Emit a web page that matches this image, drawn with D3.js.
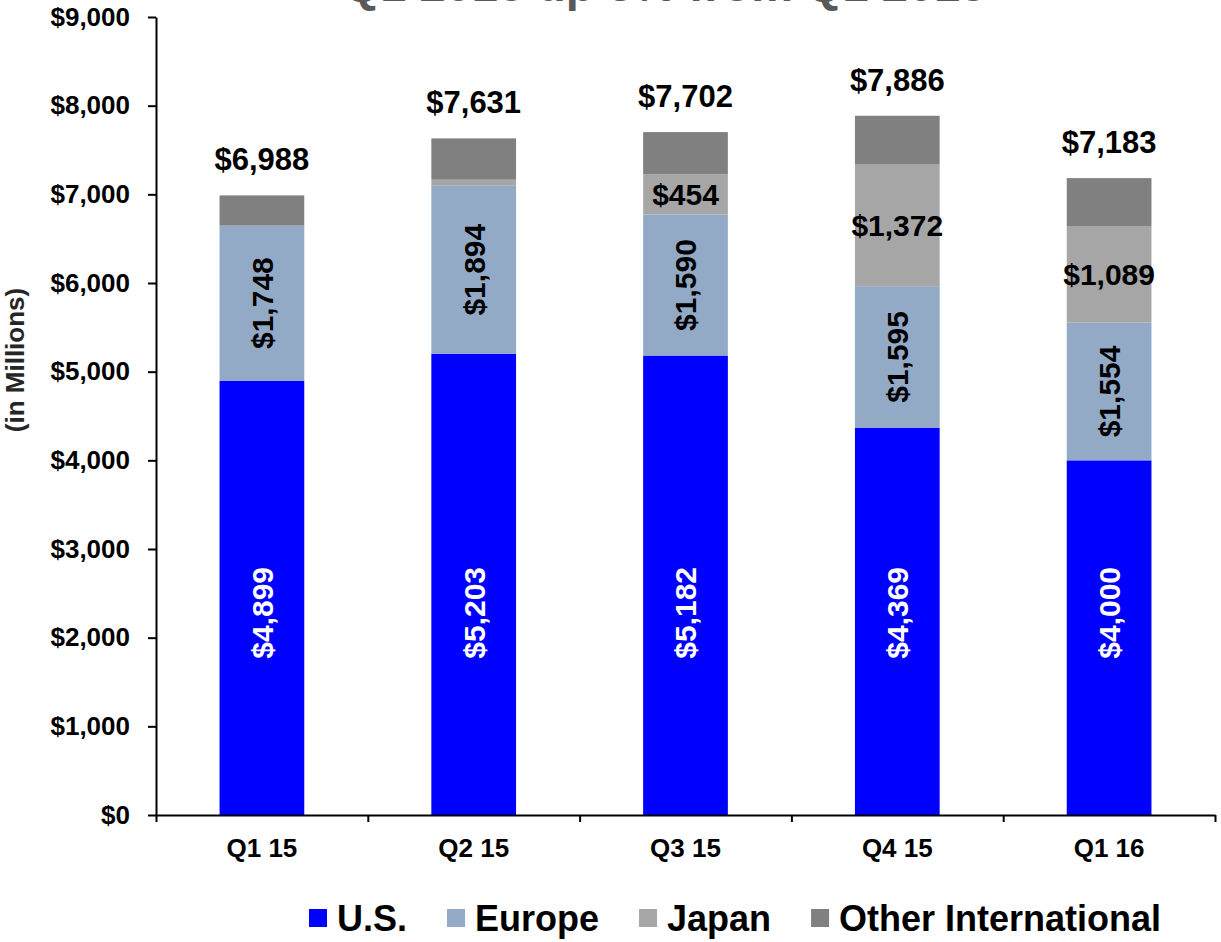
<!DOCTYPE html>
<html>
<head>
<meta charset="utf-8">
<script src="https://cdn.jsdelivr.net/npm/d3@7"></script>
<style>
  body { margin: 0; background: #fff; }
  svg { display: block; }
  text { font-family: "Liberation Sans", Arial, sans-serif; font-weight: bold; }
</style>
</head>
<body>
<svg id="chart" width="1221" height="942"></svg>
<script>
// Quarterly revenue by region, $ millions
const quarters = ["Q1 15", "Q2 15", "Q3 15", "Q4 15", "Q1 16"];
const usRevenue = [4899, 5203, 5182, 4369, 4000];
const europeRevenue = [1748, 1894, 1590, 1595, 1554];
const japanRevenue = [0, 68, 454, 1372, 1089];
const otherIntlRevenue = [341, 466, 476, 550, 540];
const totalRevenue = [6988, 7631, 7702, 7886, 7183];

const seriesKeys = ["us", "europe", "japan", "other"];
const seriesNames = ["U.S.", "Europe", "Japan", "Other International"];
const seriesColors = ["#0000ff", "#92aac6", "#a6a6a6", "#808080"];
const yTickValues = [0, 1000, 2000, 3000, 4000, 5000, 6000, 7000, 8000, 9000];
const titleText = "Q1 2016 up 3% from Q1 2015";
const yAxisTitle = "(in Millions)";

const rows = quarters.map((q, i) => ({
  quarter: q,
  us: usRevenue[i],
  europe: europeRevenue[i],
  japan: japanRevenue[i],
  other: otherIntlRevenue[i],
  total: totalRevenue[i]
}));

const svg = d3.select("#chart");
const plot = { left: 156, right: 1215, top: 17, bottom: 815 };

const x = d3.scaleBand()
  .domain(quarters)
  .range([plot.left, plot.right])
  .paddingInner(0.6)
  .paddingOuter(0.3);

const y = d3.scaleLinear()
  .domain([0, 9000])
  .range([plot.bottom, plot.top]);

const color = d3.scaleOrdinal().domain(seriesKeys).range(seriesColors);

const stacked = d3.stack().keys(seriesKeys)(rows);

// Title (runs off the top edge of the canvas)
svg.append("text")
  .attr("x", 665)
  .attr("y", 1)
  .attr("text-anchor", "middle")
  .attr("font-size", 47)
  .attr("fill", "#595959")
  .text(titleText);

// Stacked bars
const layers = svg.append("g").selectAll("g")
  .data(stacked)
  .join("g")
  .attr("fill", d => color(d.key));

layers.selectAll("rect")
  .data(d => d)
  .join("rect")
  .attr("x", d => x(d.data.quarter))
  .attr("width", x.bandwidth())
  .attr("y", d => y(d[1]))
  .attr("height", d => y(d[0]) - y(d[1]));

// Y axis
const yAxis = svg.append("g")
  .attr("transform", `translate(${plot.left},0)`)
  .call(d3.axisLeft(y)
    .tickValues(yTickValues)
    .tickFormat(d => "$" + d3.format(",")(d))
    .tickSize(8)
    .tickSizeOuter(0)
    .tickPadding(18));
yAxis.select(".domain").attr("stroke", "#000").attr("stroke-width", 2);
yAxis.selectAll(".tick line").attr("stroke", "#000").attr("stroke-width", 2);
yAxis.selectAll(".tick text").attr("font-size", 26).attr("fill", "#000")
  .style("font-family", "'Liberation Sans', Arial, sans-serif").style("font-weight", "bold");

// X axis: category boundary ticks
const boundary = d3.scaleLinear().domain([0, quarters.length]).range([plot.left, plot.right]);
const xTicks = svg.append("g")
  .attr("transform", `translate(0,${plot.bottom})`)
  .call(d3.axisBottom(boundary)
    .tickValues(d3.range(quarters.length + 1))
    .tickFormat("")
    .tickSize(7)
    .tickSizeOuter(0));
xTicks.select(".domain").attr("stroke", "#000").attr("stroke-width", 2);
xTicks.selectAll(".tick line").attr("stroke", "#000").attr("stroke-width", 2);

// X axis: category labels
const xLabels = svg.append("g")
  .attr("transform", `translate(0,${plot.bottom})`)
  .call(d3.axisBottom(x).tickSize(0).tickPadding(24));
xLabels.select(".domain").remove();
xLabels.selectAll(".tick text").attr("font-size", 26).attr("fill", "#000")
  .style("font-family", "'Liberation Sans', Arial, sans-serif").style("font-weight", "bold");

// Y axis title
svg.append("text")
  .attr("transform", `translate(15,360) rotate(-90)`)
  .attr("text-anchor", "middle")
  .attr("dy", "0.35em")
  .attr("font-size", 26)
  .attr("fill", "#262626")
  .text(yAxisTitle);

const money = v => "$" + d3.format(",")(v);
const cx = d => x(d.quarter) + x.bandwidth() / 2;
const labels = svg.append("g");

// Total above each bar
labels.selectAll(".total")
  .data(rows)
  .join("text")
  .attr("class", "total")
  .attr("x", cx)
  .attr("y", d => y(d.total) - 25)
  .attr("text-anchor", "middle")
  .attr("font-size", 31)
  .attr("fill", "#000")
  .text(d => money(d.total));

// U.S. values, rotated, white
const usLabelLevel = 2280;
labels.selectAll(".us")
  .data(rows)
  .join("text")
  .attr("class", "us")
  .attr("transform", d => `translate(${cx(d)},${y(usLabelLevel)}) rotate(-90)`)
  .attr("text-anchor", "middle")
  .attr("dy", "0.36em")
  .attr("font-size", 30)
  .attr("fill", "#fff")
  .text(d => money(d.us));

// Europe values, rotated, centred in segment
labels.selectAll(".eu")
  .data(rows)
  .join("text")
  .attr("class", "eu")
  .attr("transform", d => `translate(${cx(d)},${y(d.us + d.europe / 2)}) rotate(-90)`)
  .attr("text-anchor", "middle")
  .attr("dy", "0.36em")
  .attr("font-size", 30)
  .attr("fill", "#000")
  .text(d => money(d.europe));

// Japan values where the segment is tall enough
labels.selectAll(".jp")
  .data(rows.filter(d => d.japan > 300))
  .join("text")
  .attr("class", "jp")
  .attr("x", cx)
  .attr("y", d => y(d.us + d.europe + d.japan / 2))
  .attr("dy", "0.36em")
  .attr("text-anchor", "middle")
  .attr("font-size", 30)
  .attr("fill", "#000")
  .text(d => money(d.japan));

// Legend
const legend = svg.append("g");
let lx = 309;
seriesKeys.forEach((k, i) => {
  legend.append("rect")
    .attr("x", lx).attr("y", 909)
    .attr("width", 18).attr("height", 18)
    .attr("fill", color(k));
  const t = legend.append("text")
    .attr("x", lx + 28).attr("y", 931)
    .attr("font-size", 36)
    .attr("fill", "#000")
    .text(seriesNames[i]);
  lx = lx + 28 + t.node().getComputedTextLength() + 40;
});
</script>
</body>
</html>
